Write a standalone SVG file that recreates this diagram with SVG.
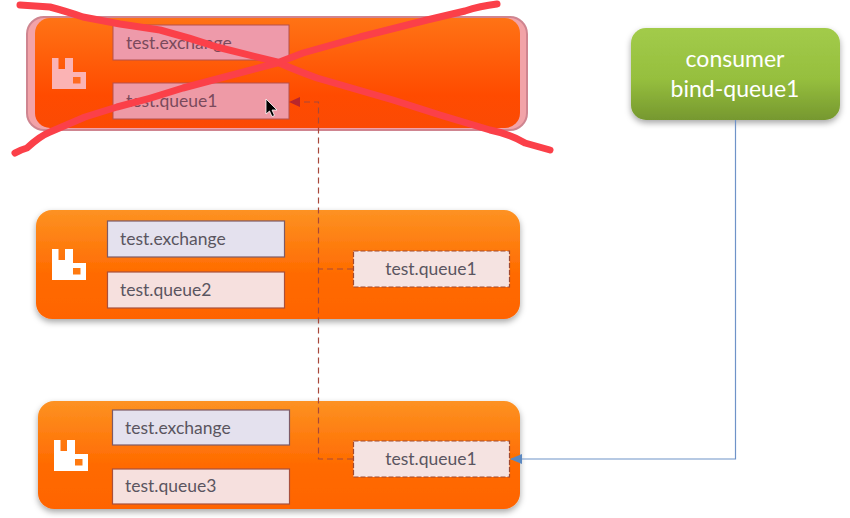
<svg xmlns="http://www.w3.org/2000/svg" width="850" height="518" viewBox="0 0 850 518">
<style>
text{font-family:Lato,"Open Sans",sans-serif;font-size:17.500px;fill:#5a5560}
.big{font-size:23px;fill:#fff}
.dim{fill:#7a4a5c}
.ex{fill:#e4e1ee;stroke:#7d5a66;stroke-width:1.200}
.qu{fill:#f6e0de;stroke:#a8503c;stroke-width:1.200}
.dq{fill:#f5e3e1;stroke:#a04a30;stroke-width:1.200;stroke-dasharray:5 2}
.scr{fill:none;stroke:#fb4049;stroke-width:7;stroke-linecap:round;stroke-linejoin:round}
.lnk{fill:none;stroke:#a8483a;stroke-width:1.200;stroke-dasharray:6 4}
.ic{fill:#fff}
</style>
<defs>
<linearGradient id="og" x1="0" y1="0" x2="0" y2="1"><stop offset="0" stop-color="#fd9222"/><stop offset=".6" stop-color="#ff6a00"/><stop offset="1" stop-color="#ff6400"/></linearGradient>
<linearGradient id="rg" x1="0" y1="0" x2="0" y2="1"><stop offset="0" stop-color="#ff7315"/><stop offset=".7" stop-color="#ff4b00"/><stop offset="1" stop-color="#fb4a04"/></linearGradient>
<linearGradient id="gg" x1="0" y1="0" x2="0" y2="1"><stop offset="0" stop-color="#a2cb4a"/><stop offset=".55" stop-color="#96bf3e"/><stop offset="1" stop-color="#76982f"/></linearGradient>
<filter id="sh" x="-5%" y="-10%" width="110%" height="130%"><feDropShadow dx="0" dy="3" stdDeviation="3" flood-color="#000" flood-opacity=".35"/></filter>
<marker id="ab" markerWidth="12" markerHeight="10" refX="11" refY="5" orient="auto" markerUnits="userSpaceOnUse"><path d="M0 0L12 5L0 10Z" fill="#5b88c0"/></marker>
<marker id="ar" markerWidth="11" markerHeight="10" refX="10" refY="5" orient="auto" markerUnits="userSpaceOnUse"><path d="M0 0L11 5L0 10Z" fill="#b8262c"/></marker>
</defs>

<g id="broker-1">
<rect x="27" y="17" width="500" height="113" rx="17" fill="#f2a3a8" stroke="#cf8590" stroke-width="2"/>
<rect x="35" y="18" width="485" height="110" rx="15" fill="url(#rg)"/>
<path d="M52 58h6.500v11h6.500v-11h8v14h13v17h-34z" fill="#fbb3b4"/>
<rect x="73" y="77" width="7.500" height="6.500" fill="#ff6a20"/>
<rect x="113" y="25" width="176" height="35" fill="#ee9aaa" stroke="#b5504c"/>
<text x="126" y="49" class="dim">test.exchange</text>
<rect x="113" y="83" width="176" height="36" fill="#ee9aa6" stroke="#b5504c"/>
<text x="126" y="107" class="dim">test.queue1</text>
</g>

<g id="broker-2">
<rect x="36" y="210" width="484" height="109" rx="16" fill="url(#og)" filter="url(#sh)"/>
<path d="M52 249h6.500v11h6.500v-11h8v14h13v17h-34z" class="ic"/>
<rect x="73" y="268" width="7.500" height="6.500" fill="#ff7a10"/>
<rect x="107.500" y="221" width="177" height="36" class="ex"/>
<text x="120" y="245">test.exchange</text>
<rect x="107.500" y="272" width="177" height="36" class="qu"/>
<text x="120" y="296">test.queue2</text>
<rect x="353.500" y="251" width="156" height="36" class="dq"/>
<text x="431" y="275" text-anchor="middle">test.queue1</text>
</g>

<g id="broker-3">
<rect x="38" y="401" width="482" height="108" rx="16" fill="url(#og)" filter="url(#sh)"/>
<path d="M54 440h6.500v11h6.500v-11h8v14h13v17h-34z" class="ic"/>
<rect x="75" y="459" width="7.500" height="6.500" fill="#ff7a10"/>
<rect x="112.500" y="410" width="177" height="35" class="ex"/>
<text x="125" y="434">test.exchange</text>
<rect x="112.500" y="469" width="177" height="35" class="qu"/>
<text x="125" y="492">test.queue3</text>
<rect x="353.500" y="441" width="156" height="36" class="dq"/>
<text x="431" y="465" text-anchor="middle">test.queue1</text>
</g>

<g id="consumer">
<rect x="631" y="28" width="209" height="92" rx="15" fill="url(#gg)" filter="url(#sh)"/>
<text x="735" y="67" text-anchor="middle" class="big">consumer</text>
<text x="735" y="97" text-anchor="middle" class="big">bind-queue1</text>
</g>

<g id="connectors">
<path class="lnk" d="M353 459H318.500V102H290" marker-end="url(#ar)"/>
<path class="lnk" d="M353 269H318.500"/>
<path d="M735.500 120V459H511" fill="none" stroke="#6f93c8" stroke-width="1.200" marker-end="url(#ab)"/>
</g>

<g id="scribble">
<path class="scr" d="M20 5L50 7Q65 11 83 17L120 24L160 30Q190 38 217 47L277 62Q295 70 317 78L393 100L440 115L490 130Q510 134 525 143L550 150"/>
<path class="scr" d="M15 153Q20 150 27 148Q40 136 50 132L85 117L117 107Q150 99 183 88L277 63L303 53L360 37L427 20L465 11Q480 6 497 4"/>
<path d="M266 99l0 15l3.500-3l2.500 5.500l2.500-1l-2.500-5.500h5z" fill="#000" stroke="#fff" stroke-width=".8"/>
</g>
</svg>
